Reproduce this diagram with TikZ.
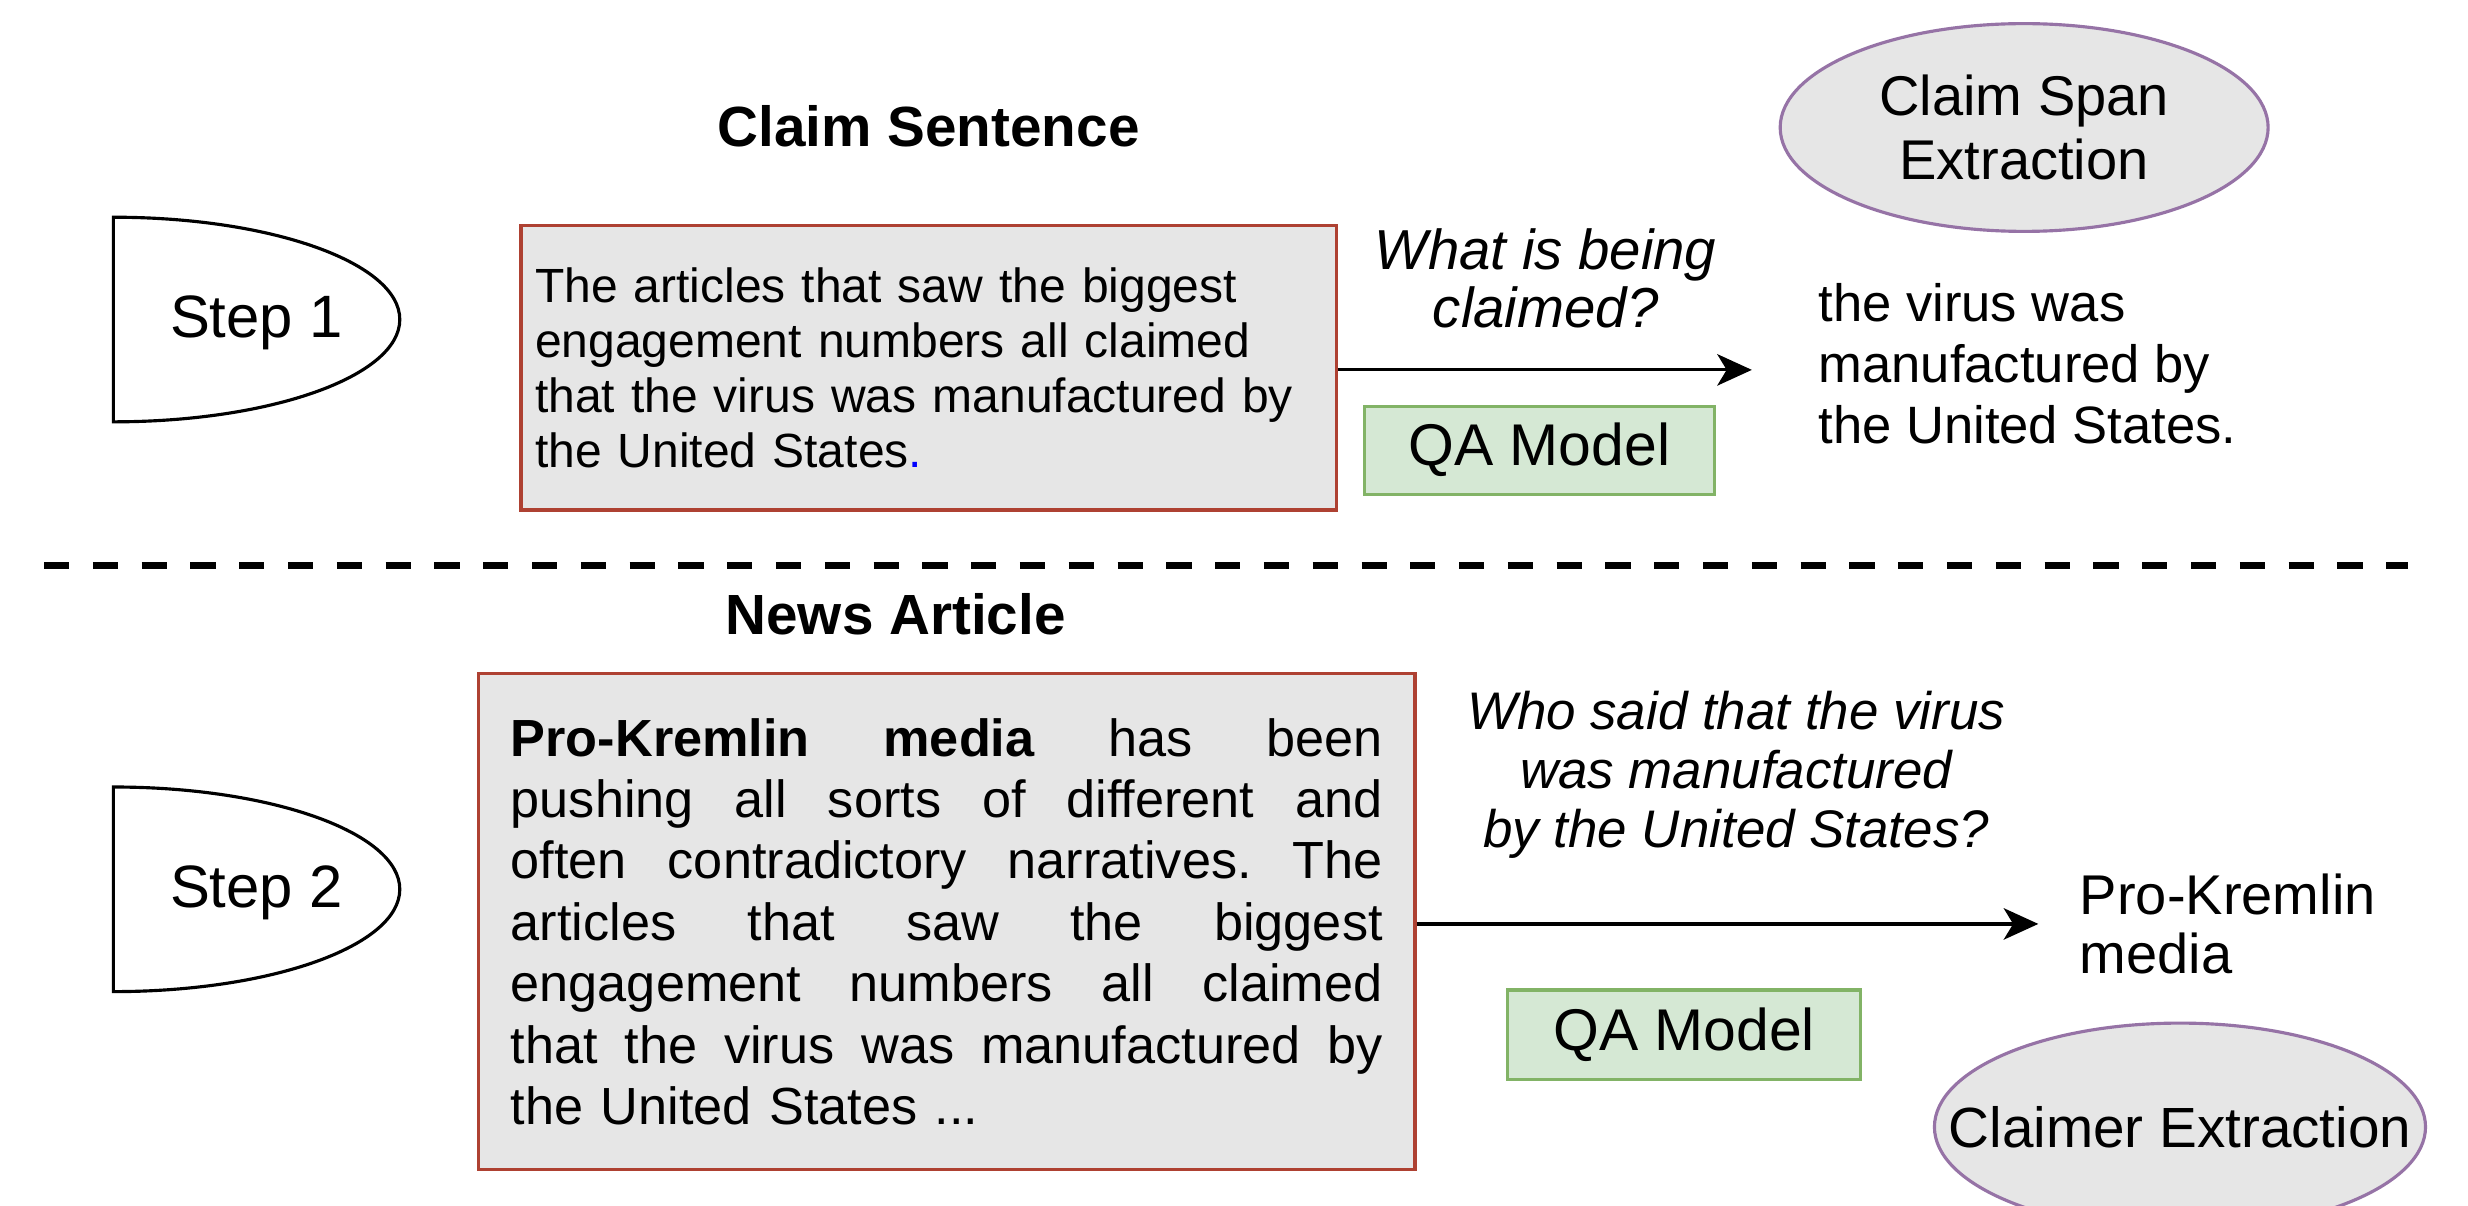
\documentclass[tikz,border=0pt]{standalone}
\usepackage{fontspec}
\setmainfont{Liberation Sans}
\usetikzlibrary{arrows.meta,shapes.geometric}
\definecolor{boxfill}{HTML}{E6E6E6}
\definecolor{boxdraw}{HTML}{AE4132}
\definecolor{qafill}{HTML}{D5E8D4}
\definecolor{qadraw}{HTML}{82B366}
\definecolor{ellfill}{HTML}{E6E6E6}
\definecolor{elldraw}{HTML}{9673A6}
\newcommand{\fsz}[2]{\fontsize{#1}{#2}\selectfont}
\newcommand{\jline}[1]{\makebox[277pt][l]{#1}}
\begin{document}
\begin{tikzpicture}[x=0.5pt,y=-0.5pt,
  stepshape/.style={draw=black,line width=1pt,fill=white},
  steptext/.style={font=\fsz{19pt}{22pt},inner sep=0pt},
  title/.style={font=\bfseries\fsz{18pt}{21pt},inner sep=0pt},
  textbox/.style={draw=boxdraw,fill=boxfill,line width=1pt,rectangle,align=left,inner ysep=0pt},
  qabox/.style={draw=qadraw,fill=qafill,line width=1pt,rectangle,inner sep=0pt,font=\fsz{18.7pt}{22pt}},
  ellbox/.style={draw=elldraw,fill=ellfill,line width=1pt,ellipse,inner sep=0pt},
  arr/.style={-{Stealth[length=11pt,width=10pt,inset=3pt]},line width=1pt},
  question/.style={align=center,inner sep=0pt},
  answer/.style={align=left,inner sep=0pt,anchor=west},
  sepline/.style={dash pattern=on 8pt off 7.5pt,line width=2.2pt}
]
\useasboundingbox[fill=white] (0,0) rectangle (1568,766);

% titles
\node[title] (t1) at (590,80) {Claim Sentence};
\node[title] (t2) at (569,390) {News Article};

% step shapes
\draw[stepshape] (72,138) .. controls (172.5,138) and (254,167.1) .. (254,203)
  .. controls (254,238.9) and (172.5,268) .. (72,268) -- cycle;
\node[steptext] (s1) at (163,205) {Step 1};
\draw[stepshape] (72,500) .. controls (172.5,500) and (254,529.1) .. (254,565)
  .. controls (254,600.9) and (172.5,630) .. (72,630) -- cycle;
\node[steptext] (s2) at (163,567) {Step 2};

% claim sentence box
\node[textbox, minimum width=259pt, minimum height=90.5pt, inner xsep=4.5pt,
  text width=250pt, font=\fsz{15.25pt}{17.5pt}] (claim) at (590,233.5)
  {The articles that saw the biggest\\engagement numbers all claimed\\that the virus was manufactured by\\the United States{\color{blue}.}};

% news article box
\node[textbox, minimum width=297.5pt, minimum height=157.5pt, inner xsep=10.25pt,
  text width=277pt, font=\fsz{16.6pt}{19.5pt}] (news) at (601.5,585.5)
  {\jline{\textbf{Pro-Kremlin}\hfill\textbf{media}\hfill has\hfill been}\\
   \jline{pushing\hfill all\hfill sorts\hfill of\hfill different\hfill and}\\
   \jline{often\hfill contradictory\hfill narratives.\hfill The}\\
   \jline{articles\hfill that\hfill saw\hfill the\hfill biggest}\\
   \jline{engagement\hfill numbers\hfill all\hfill claimed}\\
   \jline{that\hfill the\hfill virus\hfill was\hfill manufactured\hfill by}\\
   the United States ...};

% questions
\node[question, font=\itshape\fsz{17.9pt}{18.5pt}] (q1) at (982,177) {What is being\\claimed?};
\node[question, font=\itshape\fsz{16.8pt}{18.75pt}] (q2) at (1103,492.5) {Who said that the virus\\was manufactured\\by the United States?};

% QA model boxes
\node[qabox, minimum width=111pt, minimum height=28pt] (qa1) at (978,286) {QA Model};
\node[qabox, minimum width=112pt, minimum height=28.5pt] (qa2) at (1070,657.5) {QA Model};

% answers
\node[answer, font=\fsz{16.7pt}{19.5pt}] (a1) at (1155,231) {the virus was\\manufactured by\\the United States.};
\node[answer, font=\fsz{17.8pt}{19pt}] (a2) at (1321,587) {Pro-Kremlin\\media};

% ellipses
\node[ellbox, minimum width=155pt, minimum height=66pt] (cse) at (1286,81) {};
\node[font=\fsz{17.8pt}{20.5pt}, align=center, inner sep=0pt] (csetext) at (cse.center) {Claim Span\\Extraction};
\node[ellbox, minimum width=156pt, minimum height=66pt] (ce) at (1385,716) {};
\node[font=\fsz{18pt}{21pt}, inner sep=0pt] (cetext) at (ce.center) {Claimer Extraction};

% arrows
\coordinate (a1end) at (1113,235);
\draw[arr] (claim.east |- a1end) -- (a1end);
\coordinate (a2end) at (1295,587);
\draw[arr] (news.east |- a2end) -- (a2end);

% separator
\coordinate (dl) at (28,359);
\coordinate (dr) at (1530,359);
\draw[sepline] (dl) -- (dr);
\end{tikzpicture}
\end{document}
